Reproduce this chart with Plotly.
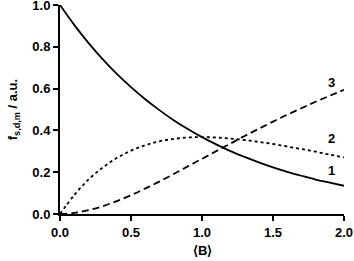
import plotly.graph_objects as go

B = [0.0, 0.1, 0.2, 0.3, 0.4, 0.5, 0.6, 0.7, 0.8, 0.9, 1.0,
     1.1, 1.2, 1.3, 1.4, 1.5, 1.6, 1.7, 1.8, 1.9, 2.0]
f_s = [1.0, 0.905, 0.819, 0.741, 0.670, 0.607, 0.549, 0.497, 0.449, 0.407, 0.368,
       0.333, 0.301, 0.273, 0.247, 0.223, 0.202, 0.183, 0.165, 0.150, 0.135]
f_d = [0.0, 0.090, 0.164, 0.222, 0.268, 0.303, 0.329, 0.348, 0.359, 0.366, 0.368,
       0.366, 0.361, 0.354, 0.345, 0.335, 0.323, 0.311, 0.298, 0.284, 0.271]
f_m = [0.0, 0.005, 0.018, 0.037, 0.062, 0.090, 0.122, 0.155, 0.191, 0.228, 0.264,
       0.301, 0.337, 0.373, 0.408, 0.442, 0.475, 0.506, 0.537, 0.566, 0.594]
labels = ["1", "2", "3"]
label_x = [1.91, 1.91, 1.91]
label_y = [0.21, 0.36, 0.63]

FONT = "Liberation Sans"

fig = go.Figure()
fig.add_trace(go.Scatter(x=B, y=f_s, mode="lines", line=dict(color="black", width=1.8, shape="spline")))
fig.add_trace(go.Scatter(x=B, y=f_d, mode="lines", line=dict(color="black", width=1.8, dash="dot", shape="spline")))
fig.add_trace(go.Scatter(x=B, y=f_m, mode="lines", line=dict(color="black", width=1.8, dash="7px,4px", shape="spline")))

for t, x, y in zip(labels, label_x, label_y):
    fig.add_annotation(x=x, y=y, text="<b>%s</b>" % t, showarrow=False,
                       font=dict(family=FONT, size=13, color="black"))

fig.add_annotation(xref="paper", yref="paper", x=0.5, y=-0.177, xanchor="center", yanchor="middle",
                   text="<b>⟨B⟩</b>",
                   showarrow=False, font=dict(family=FONT, size=13, color="black"))
fig.add_annotation(xref="paper", yref="paper", x=-0.165, y=0.497, xanchor="center", yanchor="middle",
                   textangle=-90, text="<b>f<sub>s,d,m</sub> / a.u.</b>",
                   showarrow=False, font=dict(family=FONT, size=13, color="black"))

axis_common = dict(showgrid=False, zeroline=False, showline=True, linecolor="black", linewidth=2,
                   ticks="outside", ticklen=5, tickwidth=2, tickcolor="black",
                   tickfont=dict(family=FONT, size=13, color="black", weight=700),
                   tickformat=".1f", automargin=False, ticklabeloverflow="allow")

fig.update_xaxes(range=[0, 2.0], dtick=0.5, tick0=0, **axis_common)
fig.update_yaxes(range=[0, 1.0], dtick=0.2, tick0=0, **axis_common)

fig.update_layout(width=354, height=261, showlegend=False,
                  margin=dict(l=60, r=10, t=5, b=47),
                  plot_bgcolor="white", paper_bgcolor="white")

fig.write_html("out.html", config={"displayModeBar": False},
               post_script="document.body.style.margin='0';document.body.style.overflow='hidden';")
